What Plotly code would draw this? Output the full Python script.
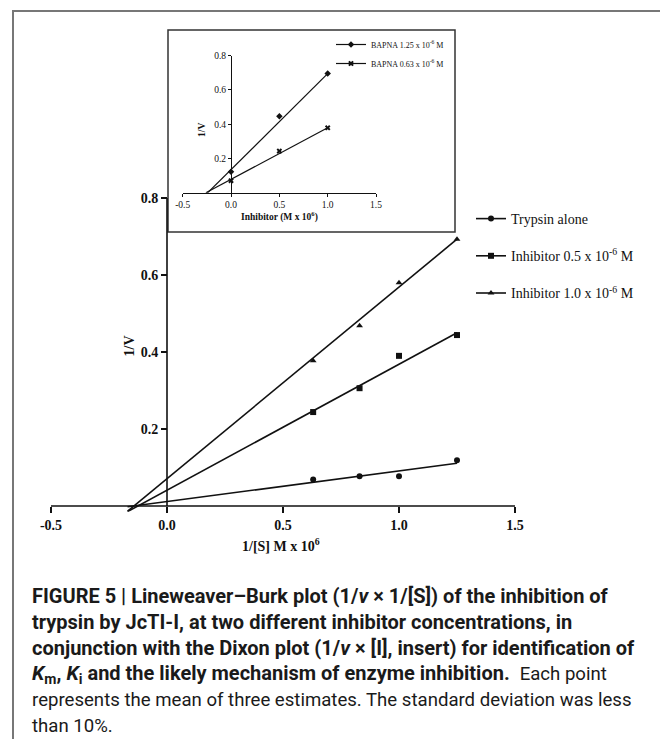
import plotly.graph_objects as go

W, H = 668, 739

# ---------------- data ----------------
inv_s = [0.63, 0.83, 1.0, 1.25]
trypsin_alone = [0.069, 0.077, 0.077, 0.119]
inhib_05 = [0.244, 0.306, 0.390, 0.444]
inhib_10 = [0.377, 0.468, 0.580, 0.693]

fit_x_main = [-0.17, 1.25]
fit_trypsin = [-0.002, 0.111]
fit_inhib_05 = [-0.0146, 0.450]
fit_inhib_10 = [-0.0136, 0.693]

inhibitor_conc = [0.0, 0.5, 1.0]
bapna_125 = [0.122, 0.447, 0.696]
bapna_063 = [0.070, 0.243, 0.379]

fit_x_b125 = [-0.25, 1.0]
fit_b125 = [-0.005, 0.695]
fit_x_b063 = [-0.26, 1.0]
fit_b063 = [0.0, 0.379]

main_names = ["Trypsin alone", "Inhibitor 0.5 x 10<sup>-6</sup> M", "Inhibitor 1.0 x 10<sup>-6</sup> M"]
inset_names = ["BAPNA 1.25 x 10<sup>-6</sup> M", "BAPNA 0.63 x 10<sup>-6</sup> M"]
x_ticks = [-0.5, 0.0, 0.5, 1.0, 1.5]
y_ticks_main = [0.2, 0.4, 0.6, 0.8]
y_ticks_inset = [0.2, 0.4, 0.6, 0.8]

caption_lines = [
    "<b>FIGURE 5 | Lineweaver–Burk plot (1/<i>v</i> × 1/[S]) of the inhibition of</b>",
    "<b>trypsin by JcTI-I, at two different inhibitor concentrations, in</b>",
    "<b>conjunction with the Dixon plot (1/<i>v</i> × [I], insert) for identification of</b>",
    "<b><i>K</i><sub>m</sub>, <i>K</i><sub>i</sub> and the likely mechanism of enzyme inhibition.</b> "
    " <span style='font-size:18.6px'>Each point</span>",
    "<span style='font-size:18.6px'>represents the mean of three estimates. The standard deviation was less</span>",
    "<span style='font-size:18.6px'>than 10%.</span>",
]

OFF = 8  # default page body margin


def fx(p):
    return (p - OFF) / W


def fy(p):
    return 1 - (p - OFF) / H


def isolated(xs, ys):
    ox, oy = [], []
    for a, b in zip(xs, ys):
        ox += [a, None]
        oy += [b, None]
    return ox[:-1], oy[:-1]


SERIF = "Liberation Serif, Times New Roman, serif"
SANS = "Roboto, Arial, sans-serif"
BLACK = "#111111"

fig = go.Figure()

for fy_vals in [fit_trypsin, fit_inhib_05, fit_inhib_10]:
    fig.add_trace(go.Scatter(x=fit_x_main, y=fy_vals, mode="lines",
                             line=dict(color=BLACK, width=1.6),
                             showlegend=False, hoverinfo="skip",
                             xaxis="x", yaxis="y"))

symbols = ["circle", "square", "triangle-up"]
for i, (name, vals) in enumerate(zip(main_names, [trypsin_alone, inhib_05, inhib_10])):
    xs, ys = isolated(inv_s, vals)
    fig.add_trace(go.Scatter(x=xs, y=ys, mode="lines+markers", name=name,
                             line=dict(color=BLACK, width=1.6),
                             marker=dict(symbol=symbols[i], size=6, color=BLACK),
                             connectgaps=False, legendgroup=f"g{i}",
                             xaxis="x", yaxis="y", legend="legend"))

fig.add_trace(go.Scatter(x=fit_x_b125, y=fit_b125, mode="lines",
                         line=dict(color=BLACK, width=1.2), showlegend=False,
                         xaxis="x2", yaxis="y2"))
fig.add_trace(go.Scatter(x=fit_x_b063, y=fit_b063, mode="lines",
                         line=dict(color=BLACK, width=1.2), showlegend=False,
                         xaxis="x2", yaxis="y2"))
inset_symbols = ["diamond", "x"]
for i, (name, vals) in enumerate(zip(inset_names, [bapna_125, bapna_063])):
    xs, ys = isolated(inhibitor_conc, vals)
    fig.add_trace(go.Scatter(x=xs, y=ys, mode="lines+markers", name=name,
                             line=dict(color=BLACK, width=1.2),
                             marker=dict(symbol=inset_symbols[i], size=5, color=BLACK),
                             connectgaps=False,
                             xaxis="x2", yaxis="y2", legend="legend2"))

# ---------------- geometry ----------------
main_x0, main_x1 = 51, 515          # pixel x for -0.5 and 1.5
main_y0, main_y08 = 506, 198         # pixel y for 0 and 0.8
ymin_main = -0.015
unit = (main_y0 - main_y08) / 0.8
main_bottom = main_y0 - ymin_main * unit
xdom = [fx(main_x0), fx(main_x1)]
ydom = [fy(main_bottom), fy(main_y08)]

ins_x0, ins_x1 = 182.7, 376.0
ins_y0, ins_y08 = 192.7, 55.7
xdom2 = [fx(ins_x0), fx(ins_x1)]
ydom2 = [fy(ins_y0), fy(ins_y08)]

tickfont_main = dict(family=SERIF, size=14, color=BLACK)
tickfont_inset = dict(family=SERIF, size=9.5, color=BLACK)

fig.update_layout(
    width=W, height=H,
    margin=dict(l=0, r=0, t=0, b=0, autoexpand=False),
    paper_bgcolor="white", plot_bgcolor="rgba(0,0,0,0)",
    xaxis=dict(domain=xdom, range=[-0.5, 1.5], tickvals=x_ticks,
               ticktext=[f"<b>{v:.1f}</b>" for v in x_ticks],
               showgrid=False, zeroline=False, showline=False,
               ticks="outside", ticklen=6, tickwidth=1.6, tickcolor=BLACK,
               tickfont=tickfont_main, anchor="free",
               position=fy(main_y0)),
    yaxis=dict(domain=ydom, range=[ymin_main, 0.8], tickvals=y_ticks_main,
               ticktext=[f"<b>{v:.1f}</b>" for v in y_ticks_main],
               showgrid=False, zeroline=False, showline=False,
               ticks="outside", ticklen=6, tickwidth=1.6, tickcolor=BLACK,
               tickfont=tickfont_main, anchor="free",
               position=xdom[0] + 0.25 * (xdom[1] - xdom[0])),
    xaxis2=dict(domain=xdom2, range=[-0.5, 1.5], tickvals=x_ticks,
                ticktext=[f"{v:.1f}" for v in x_ticks],
                showgrid=False, zeroline=False, showline=True,
                linecolor=BLACK, linewidth=1.2,
                ticks="outside", ticklen=3, tickwidth=1.2, tickcolor=BLACK,
                tickfont=tickfont_inset, anchor="y2"),
    yaxis2=dict(domain=ydom2, range=[0, 0.8], tickvals=y_ticks_inset,
                ticktext=[f"{v:.1f}" for v in y_ticks_inset],
                showgrid=False, zeroline=False, showline=True,
                linecolor=BLACK, linewidth=1.2,
                ticks="outside", ticklen=3, tickwidth=1.2, tickcolor=BLACK,
                tickfont=tickfont_inset, anchor="free",
                position=xdom2[0] + 0.25 * (xdom2[1] - xdom2[0])),
    legend=dict(x=fx(471), y=fy(203), xanchor="left", yanchor="top",
                font=dict(family=SERIF, size=14, color=BLACK),
                bgcolor="rgba(0,0,0,0)", itemwidth=30,
                traceorder="grouped", tracegroupgap=16),
    legend2=dict(x=fx(331), y=fy(30), xanchor="left", yanchor="top",
                 font=dict(family=SERIF, size=8, color=BLACK),
                 bgcolor="rgba(0,0,0,0)", itemwidth=30,
                 traceorder="normal"),
    showlegend=True,
)

shapes = [
    dict(type="rect", xref="paper", yref="paper", x0=fx(13), x1=fx(665),
         y0=fy(770), y1=fy(11), line=dict(color="#777777", width=2), layer="below"),
    dict(type="rect", xref="paper", yref="paper", x0=fx(168), x1=fx(455),
         y0=fy(232), y1=fy(30), line=dict(color="#333333", width=1.5),
         fillcolor="white", layer="below"),
    dict(type="line", xref="x", yref="y", x0=-0.5, x1=1.5, y0=0, y1=0,
         line=dict(color=BLACK, width=1.6)),
    dict(type="line", xref="x", yref="y", x0=0, x1=0, y0=0, y1=0.8,
         line=dict(color=BLACK, width=1.6)),
]
fig.update_layout(shapes=shapes)

annotations = [
    dict(text="<b>1/[S] M x 10<sup>6</sup></b>", x=fx(281), y=fy(545),
         font=dict(family=SERIF, size=14, color=BLACK)),
    dict(text="<b>1/V</b>", x=fx(119), y=fy(346), textangle=-90,
         font=dict(family=SERIF, size=14, color=BLACK)),
    dict(text="<b>Inhibitor (M x 10<sup>6</sup>)</b>", x=fx(279), y=fy(216),
         font=dict(family=SERIF, size=9.5, color=BLACK)),
    dict(text="<b>1/V</b>", x=fx(195), y=fy(130), textangle=-90,
         font=dict(family=SERIF, size=9.5, color=BLACK)),
]
cap_y = [596, 622, 648, 674, 700, 726]
for txt, yy in zip(caption_lines, cap_y):
    annotations.append(dict(text=txt, x=fx(30), y=fy(yy), xanchor="left",
                            font=dict(family=SANS, size=20, color="#1a1a1a")))
for a in annotations:
    a.setdefault("xref", "paper")
    a.setdefault("yref", "paper")
    a.setdefault("showarrow", False)
    a.setdefault("yanchor", "middle")
fig.update_layout(annotations=annotations)

fig.write_html("out.html")
